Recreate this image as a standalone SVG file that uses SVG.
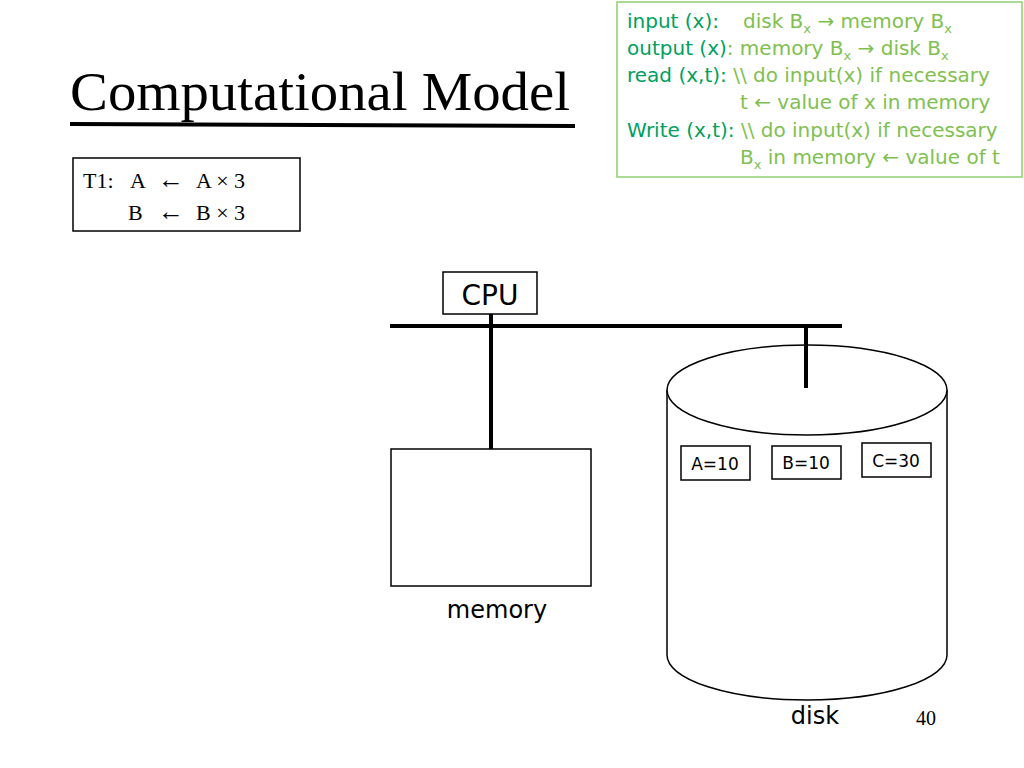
<svg xmlns="http://www.w3.org/2000/svg" width="1024" height="768" viewBox="0 0 1024 768">
<style>
.s{font-family:"Liberation Serif",serif;fill:#000}
.v{font-family:"DejaVu Sans","Noto Sans",sans-serif;fill:#000}
.g1{font-family:"DejaVu Sans","Noto Sans",sans-serif;font-size:20px;fill:#00a060}
.g2{fill:#80c050}
.box{fill:#fff;stroke:#000;stroke-width:1.5}
</style>
<rect width="1024" height="768" fill="#fff"/>
<g id="title">
<text class="s" x="70" y="110" font-size="54" textLength="500" lengthAdjust="spacingAndGlyphs">Computational Model</text>
<line x1="70" y1="124" x2="575" y2="126" stroke="#000" stroke-width="4"/>
</g>
<g id="legend">
<rect x="617" y="2" width="405" height="175" fill="#fff" stroke="#90d070" stroke-width="1.5"/>
<text class="g1" x="627" y="28">input (x):<tspan class="g2" x="743">disk B<tspan font-size="13" dy="5">x</tspan><tspan dy="-5"> → memory B</tspan><tspan font-size="13" dy="5">x</tspan></tspan></text>
<text class="g1" x="627" y="55">output (x)<tspan class="g2">: memory B<tspan font-size="13" dy="5">x</tspan><tspan dy="-5"> → disk B</tspan><tspan font-size="13" dy="5">x</tspan></tspan></text>
<text class="g1" x="627" y="82">read (x,t): <tspan class="g2">\\ do input(x) if necessary</tspan></text>
<text class="g1 g2" x="740" y="109">t ← value of x in memory</text>
<text class="g1" x="627" y="137">Write (x,t): <tspan class="g2">\\ do input(x) if necessary</tspan></text>
<text class="g1 g2" x="740" y="164">B<tspan font-size="13" dy="5">x</tspan><tspan dy="-5"> in memory ← value of t</tspan></text>
</g>
<g id="t1" class="s" font-size="22">
<rect x="73" y="158" width="227" height="73" class="box"/>
<text x="83" y="188">T1:</text>
<text x="130" y="188">A</text><text x="158" y="188" font-size="26">←</text><text x="196" y="188">A × 3</text>
<text x="128" y="220">B</text><text x="158" y="220" font-size="26">←</text><text x="196" y="220">B × 3</text>
</g>
<g id="connectors" stroke="#000" stroke-width="4">
<line x1="390" y1="326" x2="842" y2="326"/>
<line x1="491" y1="314" x2="491" y2="449"/>
</g>
<g id="cpu">
<rect x="443" y="272" width="94" height="42" class="box"/>
<text class="v" x="490" y="305" font-size="28" text-anchor="middle">CPU</text>
</g>
<g id="memory">
<rect x="391" y="449" width="200" height="137" class="box"/>
<text class="v" x="497" y="618" font-size="24" text-anchor="middle">memory</text>
</g>
<g id="disk">
<path d="M667,390 L667,655 A140,45 0 0 0 947,655 L947,390" fill="#fff" stroke="#000" stroke-width="1.5"/>
<ellipse cx="807" cy="390" rx="140" ry="45" fill="#fff" stroke="#000" stroke-width="1.5"/>
<line x1="806" y1="326" x2="806" y2="388" stroke="#000" stroke-width="4"/>
<text class="v" x="815" y="724" font-size="24" text-anchor="middle">disk</text>
</g>
<g id="a"><rect x="681" y="446" width="69" height="34" class="box"/><text class="v" x="715" y="470" font-size="17" text-anchor="middle">A=10</text></g>
<g id="b"><rect x="772" y="446" width="69" height="33" class="box"/><text class="v" x="806" y="469" font-size="17" text-anchor="middle">B=10</text></g>
<g id="c"><rect x="862" y="443" width="69" height="34" class="box"/><text class="v" x="896" y="467" font-size="17" text-anchor="middle">C=30</text></g>
<text class="s" x="926" y="725" font-size="20" text-anchor="middle">40</text>
</svg>
